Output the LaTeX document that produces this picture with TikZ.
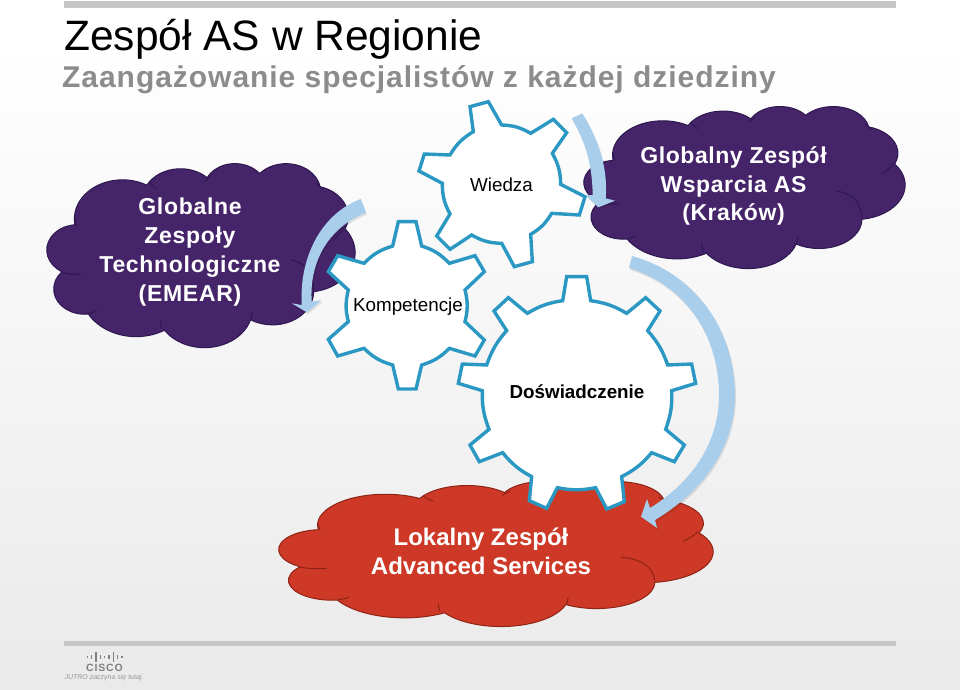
\documentclass[tikz,border=0pt]{standalone}
\usepackage{fontspec}
\setmainfont{Liberation Sans}
\definecolor{bgbot}{HTML}{EAEAEA}
\definecolor{barg}{HTML}{C6C6C6}
\definecolor{purp}{HTML}{452469}
\definecolor{purpd}{HTML}{2E1850}
\definecolor{redc}{HTML}{CE3826}
\definecolor{redd}{HTML}{8E2416}
\definecolor{gearb}{HTML}{2B98C4}
\definecolor{arrb}{HTML}{A9CEEC}
\definecolor{subg}{HTML}{8C8C8C}
\makeatletter
% one arc of the cloud outline: wR hR stAng swAng (degrees), W/H in \cW,\cH
\newcommand\CA[4]{\pgfextra{%
  \pgfmathsetmacro\ca@st{#3}\pgfmathsetmacro\ca@en{#3+#4}%
  \pgfmathsetmacro\ca@a{atan2(#1*sin(\ca@st),#2*cos(\ca@st))}%
  \pgfmathsetmacro\ca@b{atan2(#1*sin(\ca@en),#2*cos(\ca@en))}%
  \pgfmathsetmacro\ca@b{\ca@b<\ca@a ? \ca@b+360 : \ca@b}%
  \pgfmathsetmacro\ca@rx{#1/432*\cW/100}%
  \pgfmathsetmacro\ca@ry{#2/432*\cH/100}%
  \xdef\CAa{\ca@a}\xdef\CAb{\ca@b}\xdef\CAx{\ca@rx}\xdef\CAy{\ca@ry}%
 } arc[start angle=-\CAa,end angle=-\CAb,x radius=\CAx pt,y radius=\CAy pt]}
\makeatother
\newcommand\cloudshape[6]{% x y W H fill stroke
 \def\cW{#3}\def\cH{#4}%
 \begin{scope}[shift={(#1,#2)},x=#3pt/432,y=-#4pt/432]
 \path[fill=#5,draw=#6,line width=1pt,line join=round]
  (39,143.7)
  \CA{6753}{9190}{-190.487}{123.781}
  \CA{5333}{7267}{-144.102}{89.945}
  \CA{4365}{5945}{-145.808}{99.723}
  \CA{4857}{6595}{-130.986}{117.242}
  \CA{5333}{7273}{-78.709}{109.027}
  \CA{6775}{9220}{-46.267}{130.269}
  \CA{5785}{7867}{0.625}{114.033}
  \CA{6752}{9215}{22.452}{115.173}
  \CA{7720}{10543}{66.243}{75.711}
  \CA{4360}{5918}{-274.942}{146.736}
  \CA{4345}{5945}{-246.829}{152.519}
  -- cycle;
 \draw[#6,line width=1pt]
  (47.41,260.40) .. controls (35.00,263.00) and (27.00,260.00) .. (19.23,255.36)
  (69.96,346.18) .. controls (67.00,349.00) and (63.00,352.00) .. (59.02,353.27)
  (158.48,365.24) .. controls (158.80,373.00) and (159.50,381.00) .. (160.13,388.54)
  (287.78,348.22) .. controls (287.50,355.00) and (286.80,362.00) .. (286.12,368.37)
  (340.80,227.10) .. controls (360.00,232.00) and (373.00,255.00) .. (373.99,297.73)
  (402.13,179.65) .. controls (408.00,172.00) and (413.00,162.00) .. (417.05,151.40)
  (378.00,48.00) .. controls (381.00,53.00) and (384.00,58.00) .. (387.00,62.00)
  (222.00,43.00) .. controls (224.00,39.00) and (227.00,34.00) .. (230.00,30.00)
  (143.55,45.40) .. controls (147.00,51.00) and (150.00,56.00) .. (153.50,60.54)
  (39.12,126.12) .. controls (39.50,133.00) and (40.00,140.00) .. (40.78,146.30);
 \end{scope}}
\tikzset{
 geartooth/.style={fill=white,draw=gearb,line width=3.4pt,line join=miter,miter limit=4},
 ttl/.style={anchor=base west,inner sep=0,font=\fontsize{42.5}{42.5}\selectfont},
 cloudlabel/.style n args={3}{white,font=\bfseries\fontsize{#1}{#2}\selectfont\addfontfeature{LetterSpace=#3},align=center,inner sep=0},
 gearlabel/.style={black,inner sep=0,font=\fontsize{18.8}{18.8}\selectfont},
 gearlabelb/.style={black,inner sep=0,font=\bfseries\fontsize{18.8}{18.8}\selectfont},
 bandarrow/.style={fill=arrb,draw=none},
 bandshadow/.style={fill=black,opacity=.10,draw=none},
 hbar/.style={fill=barg,draw=none},
}
\begin{document}
\begin{tikzpicture}[x=1pt,y=-1pt]
\useasboundingbox (0,0) rectangle (960,689);
\fill[white] (0,0) rectangle (960,41);
\shade[top color=white,bottom color=bgbot] (0,40) rectangle (960,689);
\fill[hbar] (64,1) rectangle (896,8);
\fill[hbar] (64,641) rectangle (896,646);
\node[ttl] (title) at (64,50) {Zespół AS w Regionie};
\node[anchor=base west,inner sep=0,subg,font=\bfseries\fontsize{30}{30}\selectfont\addfontfeature{LetterSpace=3.2}] (sub) at (62,87.5) {Zaangażowanie specjalistów z każdej dziedziny};

% clouds
\cloudshape{47}{163}{308}{184}{purp}{purpd}
\cloudshape{584}{106}{321}{162}{purp}{purpd}
\cloudshape{279}{481}{434}{145}{redc}{redd}

% Wiedza gear
\begin{scope}[shift={(320,90)},x=1pt/3,y=-1pt/3]
\draw[geartooth] (450,50)--(505,35)--(545,105) to[bend left=14] (632,130)--(700,88)--(740,128)--(697,190) to[bend left=14] (722,283)--(795,320)--(778,375)--(695,370) to[bend left=14] (632,433)--(637,515)--(583,530)--(545,460) to[bend left=14] (455,435)--(390,478)--(350,438)--(390,372) to[bend left=14] (367,280)--(297,243)--(313,192)--(390,195) to[bend left=14] (460,125)--cycle;
% Kompetencje gear
\draw[geartooth] (235,395)--(288,395)--(305,468) to[bend left=14] (388,520)--(465,497)--(493,545)--(435,600) to[bend left=14] (435,695)--(493,750)--(465,798)--(388,775) to[bend left=14] (305,825)--(288,897)--(235,897)--(218,825) to[bend left=14] (132,775)--(53,798)--(25,748)--(85,695) to[bend left=14] (85,600)--(25,545)--(53,497)--(132,520) to[bend left=14] (218,468)--cycle;
\end{scope}
% Doswiadczenie gear
\begin{scope}[shift={(440,260)},x=1pt/3,y=-1pt/3]
\draw[geartooth] (380,50)--(440,50)--(452,122) to[bend left=11] (560,160)--(617,113)--(660,153)--(623,212) to[bend left=11] (683,315)--(755,312)--(767,370)--(695,392) to[bend left=11] (677,508)--(733,555)--(703,605)--(635,578) to[bend left=11] (545,650)--(553,725)--(500,747)--(467,683) to[bend left=11] (352,683)--(320,745)--(268,722)--(275,650) to[bend left=11] (188,578)--(118,605)--(90,555)--(147,508) to[bend left=11] (127,392)--(55,370)--(67,312)--(140,315) to[bend left=11] (200,212)--(162,153)--(205,113)--(262,160) to[bend left=11] (368,122)--cycle;
\end{scope}

% arrows
\newcommand\arrowone{(582.3,113.3) .. controls (600,142) and (608,170) .. (605.7,198.3) -- (615,200.7) -- (598.3,207.3) -- (585.7,195) -- (592.7,195) .. controls (592,160) and (584,140) .. (571.7,118.3) -- cycle}
\newcommand\arrowtwo{(360.7,199) .. controls (323,213) and (299,255) .. (301.7,305) -- (291.7,303.3) -- (306.7,312.3) -- (321.7,300) -- (311.7,301.7) .. controls (309,260) and (330,226.7) .. (366,212.7) -- cycle}
\newcommand\arrowthree{(632,256) .. controls (700,275) and (735,335) .. (735,395) .. controls (735,445) and (705,490) .. (655,520) -- (657,528) -- (641,516.7) -- (647,499) -- (650,508) .. controls (695,480) and (719,440) .. (719,395) .. controls (719,335) and (685,285) .. (629,268) -- cycle}
\begin{scope}[shift={(1,2)}]
\fill[bandshadow] \arrowone;
\fill[bandshadow] \arrowtwo;
\fill[bandshadow] \arrowthree;
\end{scope}
\fill[bandarrow] \arrowone;
\fill[bandarrow] \arrowtwo;
\fill[bandarrow] \arrowthree;

% labels
\node[cloudlabel={23}{29}{3}] (ltext) at (190,252.5) {Globalne\\Zespoły\\Technologiczne\\(EMEAR)};
\node[cloudlabel={23}{28.5}{2.5}] (rtext) at (733.5,186) {Globalny Zespół\\Wsparcia AS\\(Kraków)};
\node[cloudlabel={24}{29.3}{0}] (btext) at (481,551) {Lokalny Zespół\\Advanced Services};
\node[gearlabel] (wiedza) at (501.5,185) {Wiedza};
\node[gearlabel] (komp) at (408,307) {Kompetencje};
\node[gearlabelb] (dosw) at (577,392) {Doświadczenie};

% logo
\foreach \x/\h in {87.5/1.2,91.8/2.4,96.1/5,100.4/2.4,104.7/1.2,109/2.4,113.3/5,117.6/2.4,121.9/1.2}{
  \draw[line width=1.3pt,draw=gray] (\x,657-\h) -- (\x,657+\h);
}
\node[inner sep=0,gray,font=\bfseries\fontsize{10.5}{10.5}\selectfont\addfontfeature{LetterSpace=8}] (cisco) at (104.5,667.5) {CISCO};
\node[inner sep=0,gray!80,font=\itshape\fontsize{7}{7}\selectfont] (jutro) at (104,678) {JUTRO zaczyna się tutaj.};
\end{tikzpicture}
\end{document}
